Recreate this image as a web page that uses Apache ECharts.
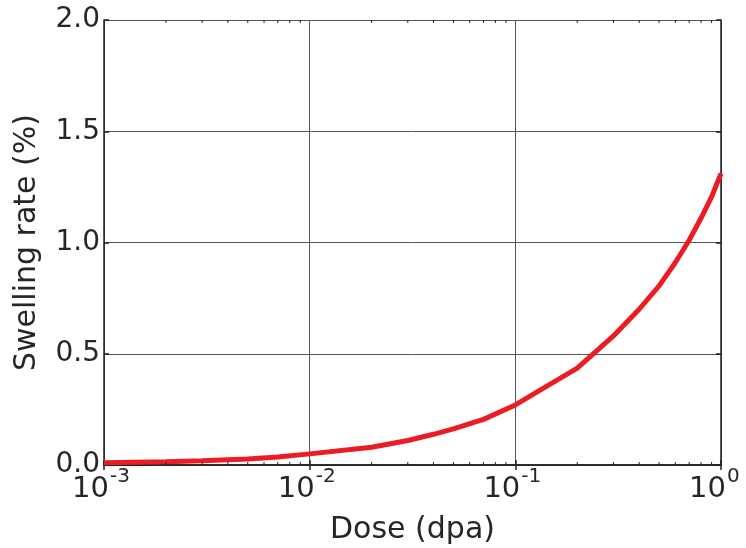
<!DOCTYPE html>
<html>
<head>
<meta charset="utf-8">
<script src="https://cdn.jsdelivr.net/npm/echarts@6/dist/echarts.min.js"></script>
<style>html,body{margin:0;padding:0;background:#fff}#c{width:746px;height:548px}</style>
</head>
<body>
<div id="c"></div>
<script>
var doses = [0.001, 0.002, 0.003, 0.005, 0.007, 0.01, 0.02, 0.03, 0.04, 0.05, 0.07, 0.1, 0.2, 0.3, 0.4, 0.5, 0.6, 0.7, 0.8, 0.9, 1.0];
var swelling = [0.010, 0.015, 0.019, 0.027, 0.036, 0.050, 0.080, 0.110, 0.138, 0.162, 0.205, 0.270, 0.435, 0.580, 0.700, 0.805, 0.910, 1.010, 1.110, 1.205, 1.310];
var xTickBase = "10";
var xTickExponents = {"0.001": "-3", "0.01": "-2", "0.1": "-1", "1": "0"};
var minorTickValues = [0.002,0.003,0.004,0.005,0.006,0.007,0.008,0.009,0.02,0.03,0.04,0.05,0.06,0.07,0.08,0.09,0.2,0.3,0.4,0.5,0.6,0.7,0.8,0.9];
var yMin = 0, yMax = 2.0, yInterval = 0.5;
var xTitle = "Dose (dpa)", yTitle = "Swelling rate (%)";

var FONT = "DejaVu Sans";
var TXT = "#262626";
var chart = echarts.init(document.getElementById('c'), null, {renderer: 'canvas'});

function expOf(v) {
  var key = String(+v.toPrecision(6));
  return xTickExponents[key];
}
var axisLineStyle = {color: '#222', width: 1.5};
var tickStyle = {color: '#222', width: 1.5};

var minorData = [];
minorTickValues.forEach(function (v) { minorData.push([v, yMin, 0]); minorData.push([v, yMax, 1]); });

chart.setOption({
  animation: false,
  grid: {left: 104, right: 25, top: 20, bottom: 83, containLabel: false, outerBoundsMode: 'none'},
  xAxis: [{
    type: 'log', logBase: 10, min: 0.001, max: 1,
    name: xTitle, nameLocation: 'middle', nameGap: 50,
    nameTextStyle: {fontSize: 30, fontFamily: FONT, color: TXT},
    axisLine: {show: true, lineStyle: axisLineStyle},
    axisTick: {show: true, inside: true, length: 5, lineStyle: tickStyle},
    minorTick: {show: false},
    splitLine: {show: true, lineStyle: {color: '#555', width: 1}},
    axisLabel: {show: true, margin: 10, fontSize: 29, fontFamily: FONT, color: TXT,
      align: 'center', padding: [0, 27, 0, 0], hideOverlap: false,
      formatter: function (v) { return expOf(v) === undefined ? '' : xTickBase; }}
  }, {
    type: 'log', logBase: 10, min: 0.001, max: 1, position: 'top',
    axisLine: {show: true, lineStyle: axisLineStyle},
    axisTick: {show: true, inside: true, length: 5, lineStyle: tickStyle},
    splitLine: {show: false}, axisLabel: {show: false}
  }, {
    type: 'log', logBase: 10, min: 0.001, max: 1, position: 'bottom', offset: 0,
    axisLine: {show: false}, axisTick: {show: false}, splitLine: {show: false},
    axisLabel: {show: true, margin: 2, fontSize: 20, fontFamily: FONT, color: TXT,
      align: 'left', padding: [0, 0, 0, 6], hideOverlap: false,
      formatter: function (v) { var e = expOf(v); return e === undefined ? '' : e; }}
  }],
  yAxis: [{
    type: 'value', min: yMin, max: yMax, interval: yInterval,
    name: yTitle, nameLocation: 'middle', nameGap: 62,
    nameTextStyle: {fontSize: 30, fontFamily: FONT, color: TXT},
    axisLine: {show: true, lineStyle: axisLineStyle},
    axisTick: {show: true, inside: true, length: 5, lineStyle: tickStyle},
    splitLine: {show: true, lineStyle: {color: '#555', width: 1}},
    axisLabel: {show: true, margin: 4, fontSize: 28, fontFamily: FONT, color: TXT,
      formatter: function (v) { return v.toFixed(1); }}
  }, {
    type: 'value', min: yMin, max: yMax, interval: yInterval, position: 'right',
    axisLine: {show: true, lineStyle: axisLineStyle},
    axisTick: {show: true, inside: true, length: 5, lineStyle: tickStyle},
    splitLine: {show: false}, axisLabel: {show: false}
  }],
  series: [{
    type: 'custom', xAxisIndex: 0, yAxisIndex: 0, silent: true, z: 5,
    clip: false,
    data: minorData,
    renderItem: function (params, api) {
      var p = api.coord([api.value(0), api.value(1)]);
      var dir = api.value(2) === 0 ? -1 : 1;
      return {type: 'line', shape: {x1: p[0], y1: p[1], x2: p[0], y2: p[1] + dir * 3},
        style: {stroke: '#222', lineWidth: 1}};
    }
  }, {
    type: 'line', xAxisIndex: 0, yAxisIndex: 0, z: 3,
    data: doses.map(function (d, i) { return [d, swelling[i]]; }),
    showSymbol: false, symbol: 'none', smooth: false,
    lineStyle: {color: '#ec1c24', width: 5}
  }]
});
</script>
</body>
</html>
